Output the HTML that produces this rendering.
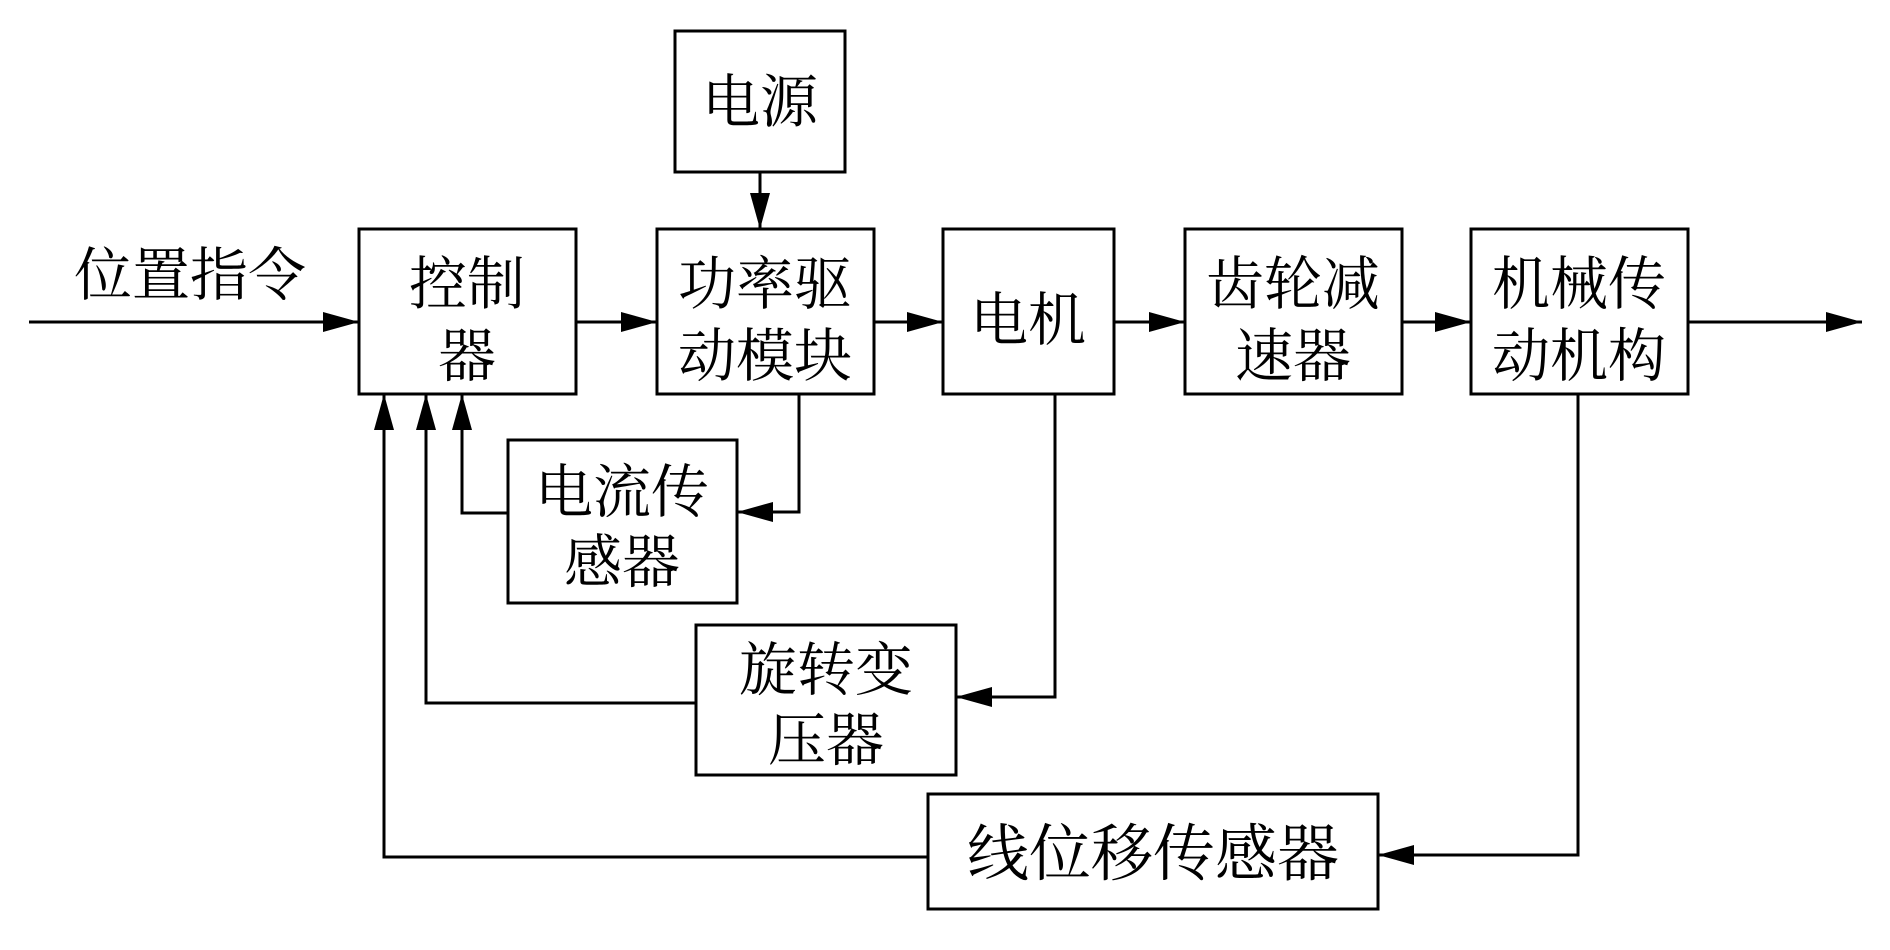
<!DOCTYPE html>
<html><head><meta charset="utf-8"><style>
html,body{margin:0;padding:0;background:#fff;}
svg text{font-family:"Liberation Serif","Noto Serif CJK SC",serif;fill:#000;}
</style></head><body>
<svg width="1890" height="945" viewBox="0 0 1890 945" xmlns="http://www.w3.org/2000/svg">
<defs><marker id="a" markerWidth="12" markerHeight="8" refX="12" refY="4" orient="auto" markerUnits="userSpaceOnUse"><path d="M0,0 L40,4 L0,8 Z" transform="scale(0.3,1)"/></marker>
<marker id="b" viewBox="0 0 36 20" refX="36" refY="10" markerWidth="36" markerHeight="20" orient="auto" markerUnits="userSpaceOnUse"><path d="M0,0 L36,10 L0,20 Z"/></marker></defs>
<g fill="none" stroke="#000" stroke-width="3">
<rect x="359" y="229" width="217" height="165"/>
<rect x="657" y="229" width="217" height="165"/>
<rect x="675" y="31" width="170" height="141"/>
<rect x="943" y="229" width="171" height="165"/>
<rect x="1185" y="229" width="217" height="165"/>
<rect x="1471" y="229" width="217" height="165"/>
<rect x="508" y="440" width="229" height="163"/>
<rect x="696" y="625" width="260" height="150"/>
<rect x="928" y="794" width="450" height="115"/>
</g>
<g fill="none" stroke="#000" stroke-width="3" marker-end="url(#b)">
<line x1="29" y1="322" x2="359" y2="322"/>
<line x1="576" y1="322" x2="657" y2="322"/>
<line x1="874" y1="322" x2="943" y2="322"/>
<line x1="1114" y1="322" x2="1185" y2="322"/>
<line x1="1402" y1="322" x2="1471" y2="322"/>
<line x1="1688" y1="322" x2="1862" y2="322"/>
<line x1="760" y1="172" x2="760" y2="229"/>
<polyline points="799,394 799,512 737,512"/>
<polyline points="508,513 462,513 462,394"/>
<polyline points="1055,394 1055,697 956,697"/>
<polyline points="696,703 426,703 426,394"/>
<polyline points="1578,394 1578,855 1378,855"/>
<polyline points="928,857 384,857 384,394"/>
</g>
<g font-size="58" text-anchor="middle">
<text x="190" y="295">位置指令</text>
<text x="467" y="304">控制</text>
<text x="467" y="376">器</text>
<text x="765" y="304">功率驱</text>
<text x="765" y="376">动模块</text>
<text x="760" y="122">电源</text>
<text x="1028" y="340">电机</text>
<text x="1293" y="304">齿轮减</text>
<text x="1293" y="376">速器</text>
<text x="1579" y="304">机械传</text>
<text x="1579" y="376">动机构</text>
<text x="622" y="512">电流传</text>
<text x="622" y="582">感器</text>
<text x="826" y="690">旋转变</text>
<text x="826" y="760">压器</text>
<text x="1153" y="875" font-size="62">线位移传感器</text>
</g>
</svg>
</body></html>
